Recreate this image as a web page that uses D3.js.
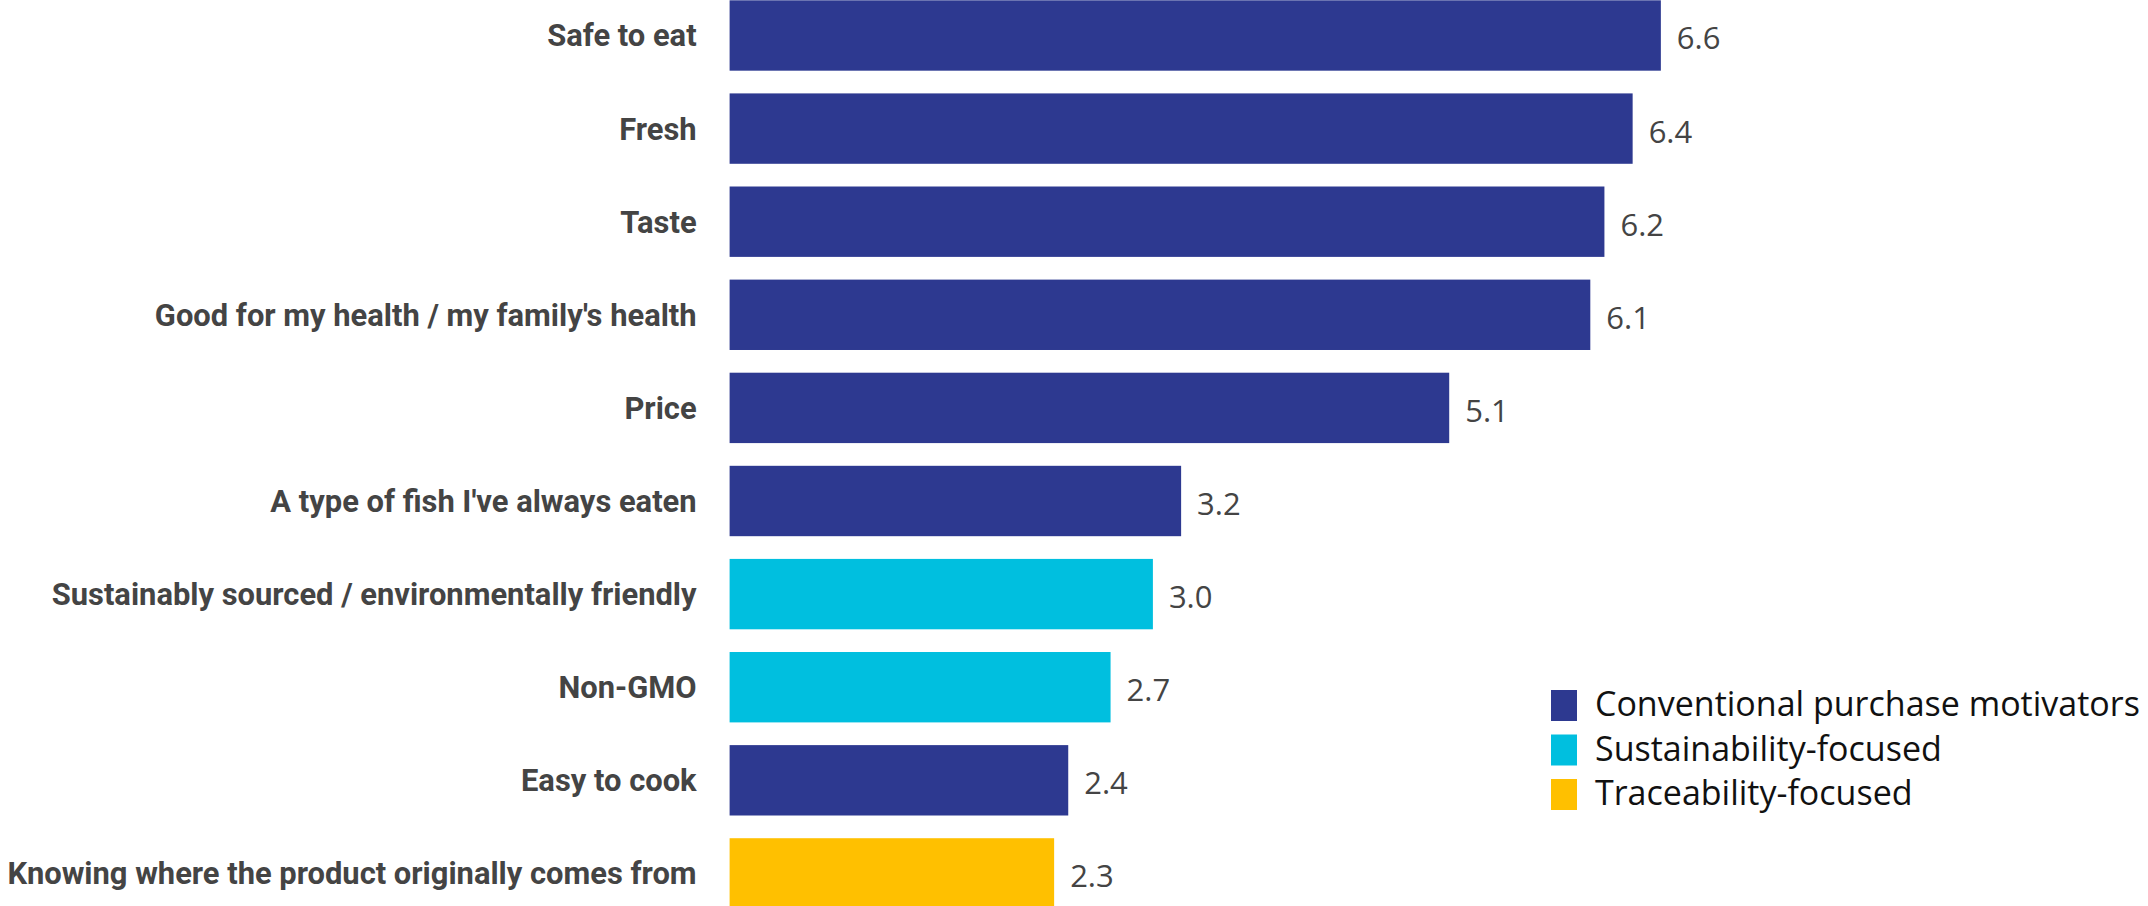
<!DOCTYPE html>
<html>
<head>
<meta charset="utf-8">
<script src="https://cdn.jsdelivr.net/npm/d3@7"></script>
<style>
  html, body { margin: 0; padding: 0; background: #fff; }
  svg { display: block; }
</style>
</head>
<body>
<svg id="chart" width="2148" height="906"></svg>
<script>
// Purchase motivators, ranked by mean score
const categories = [
  "Safe to eat",
  "Fresh",
  "Taste",
  "Good for my health / my family's health",
  "Price",
  "A type of fish I've always eaten",
  "Sustainably sourced / environmentally friendly",
  "Non-GMO",
  "Easy to cook",
  "Knowing where the product originally comes from"
];
const values = [6.6, 6.4, 6.2, 6.1, 5.1, 3.2, 3.0, 2.7, 2.4, 2.3];
const groups = [
  "Conventional purchase motivators",
  "Conventional purchase motivators",
  "Conventional purchase motivators",
  "Conventional purchase motivators",
  "Conventional purchase motivators",
  "Conventional purchase motivators",
  "Sustainability-focused",
  "Sustainability-focused",
  "Conventional purchase motivators",
  "Traceability-focused"
];
const legendLabels = [
  "Conventional purchase motivators",
  "Sustainability-focused",
  "Traceability-focused"
];
const legendColors = ["#2d3990", "#00bfdf", "#ffc000"];

const svg = d3.select("#chart");

const color = d3.scaleOrdinal().domain(legendLabels).range(legendColors);

const x = d3.scaleLinear().domain([0, 10]).range([729.6, 729.6 + 1411]);
const y = d3.scaleBand()
  .domain(categories)
  .range([0.3, 908.6])
  .paddingInner(0.244)
  .paddingOuter(0);

const rows = categories.map((c, i) => ({ cat: c, value: values[i], group: groups[i] }));

// Bars
svg.append("g")
  .selectAll("rect")
  .data(rows)
  .join("rect")
  .attr("x", x(0))
  .attr("y", d => y(d.cat))
  .attr("width", d => x(d.value) - x(0))
  .attr("height", y.bandwidth())
  .attr("fill", d => color(d.group));

// Category labels on the left, set in a condensed bold face
const labelRight = x(0) - 33;
const labelSpan = labelRight - 7;
const labelGroup = svg.append("g");
const labels = labelGroup.selectAll("text")
  .data(rows)
  .join("text")
  .attr("x", 0)
  .attr("y", d => y(d.cat) + y.bandwidth() / 2 + 11)
  .attr("text-anchor", "end")
  .attr("font-family", "Roboto, 'Liberation Sans', sans-serif")
  .attr("font-weight", "bold")
  .attr("font-size", 32)
  .attr("fill", "#444")
  .text(d => d.cat);
const widest = d3.max(labels.nodes(), n => n.getComputedTextLength());
labelGroup.attr("transform", `translate(${labelRight},0) scale(${labelSpan / widest},1)`);

// Value labels at bar ends
svg.append("g")
  .selectAll("text")
  .data(rows)
  .join("text")
  .attr("x", d => x(d.value) + 16)
  .attr("y", d => y(d.cat) + y.bandwidth() / 2 + 14)
  .attr("font-family", "'Open Sans', sans-serif")
  .attr("font-size", 31)
  .attr("fill", "#444")
  .text(d => d.value.toFixed(1));

// Legend
const legend = svg.append("g").attr("transform", "translate(1551,690)");
const item = legend.selectAll("g")
  .data(legendLabels)
  .join("g")
  .attr("transform", (d, i) => `translate(0,${i * 44.5})`);
item.append("rect")
  .attr("width", 26)
  .attr("height", 31)
  .attr("fill", d => color(d));
item.append("text")
  .attr("x", 44)
  .attr("y", 26)
  .attr("font-family", "'Open Sans', sans-serif")
  .attr("font-size", 34)
  .attr("fill", "#111")
  .text(d => d);
</script>
</body>
</html>
